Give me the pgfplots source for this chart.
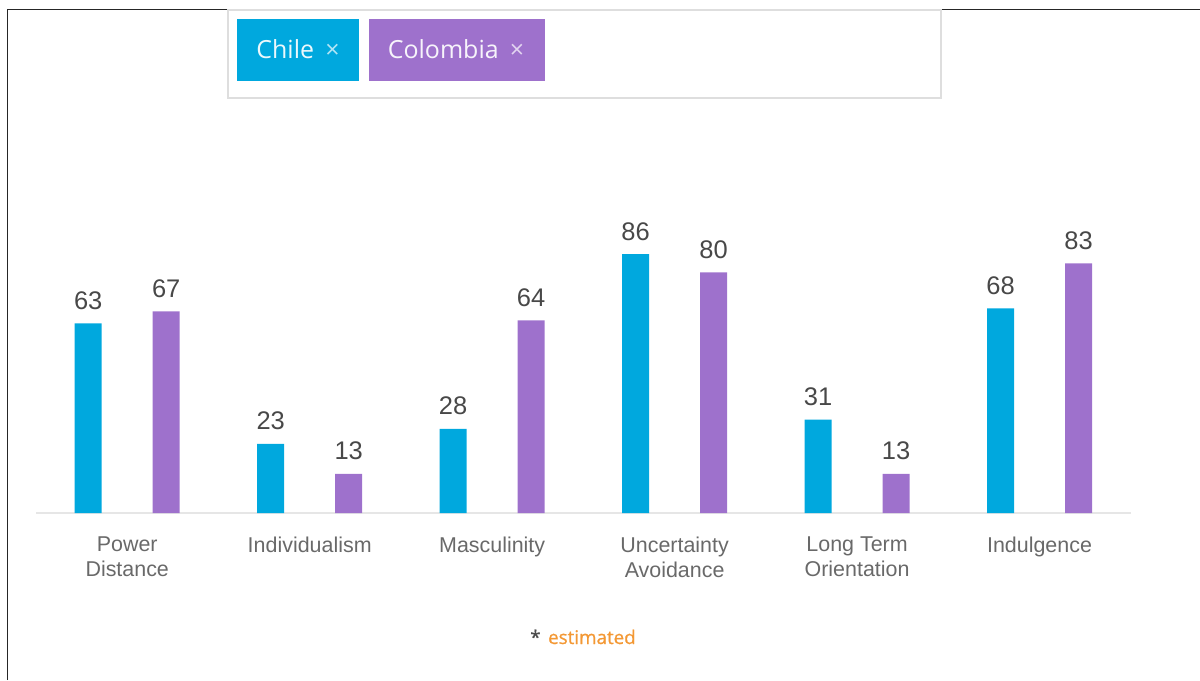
\documentclass[border=0pt]{standalone}
\usepackage{pgfplots}
\pgfplotsset{compat=1.18}
\usepackage{fontspec}
\setmainfont{Liberation Sans}
\newfontfamily\osans{Open Sans}
\newfontfamily\osanssb[FakeBold=0.8]{Open Sans}
\definecolor{chile}{RGB}{0,168,222}
\definecolor{colom}{RGB}{158,113,204}
\definecolor{vallab}{RGB}{72,72,72}
\definecolor{catlab}{RGB}{105,105,105}
\definecolor{est}{RGB}{243,152,52}
\definecolor{basel}{RGB}{230,230,230}
\definecolor{boxgray}{RGB}{222,222,222}

\pgfplotstableread{
x chile colombia
0 63 67
1 23 13
2 28 64
3 86 80
4 31 13
5 68 83
}\hofstede

\begin{document}
\begin{tikzpicture}[x=0.02cm,y=0.02cm]
\path[use as bounding box] (0,0) rectangle (1200,680);
% frame (left and top)
\draw[line width=0.025cm, black!85] (7.5,0) -- (7.5,670.5) -- (1200,670.5);
% legend box
\draw[draw=boxgray, line width=0.04cm] (228,582) rectangle (941,670);
\fill[chile] (237,599) rectangle (359,661);
\fill[colom] (369,599) rectangle (545,661);
\node[anchor=base, inner sep=0pt, font=\osans\fontsize{14.2pt}{17pt}\selectfont, text=white!92!chile] at (298,621) {Chile\hspace{0.45em}{\color{white!70!chile}×}};
\node[anchor=base, inner sep=0pt, font=\osans\fontsize{14.2pt}{17pt}\selectfont, text=white!92!colom] at (456,621) {Colombia\hspace{0.45em}{\color{white!70!colom}×}};

\begin{axis}[
  at={(0.72cm,3.34cm)}, anchor=south west,
  scale only axis, width=21.9cm, height=6.02cm,
  xmin=-0.5, xmax=5.5, ymin=0, ymax=100,
  clip=false,
  hide y axis,
  axis x line*=bottom,
  x axis line style={draw=basel, line width=0.04cm, -},
  xtick={0,...,5}, major tick length=0pt, xtick style={draw=none},
  xticklabels={{Power\\Distance},{Individualism},{Masculinity},{Uncertainty\\Avoidance},{Long Term\\Orientation},{Indulgence}},
  x tick label style={align=center, font=\fontsize{12.2pt}{14.2pt}\selectfont, text=catlab, anchor=north, inner sep=0pt, yshift=-0.47cm},
  ybar, bar width=0.54cm,
  nodes near coords,
  /pgf/number format/assume math mode=true,
  every node near coord/.append style={font=\fontsize{14.5pt}{17pt}\selectfont, text=vallab, anchor=south, inner sep=0pt, yshift=0.27cm},
]
\addplot[fill=chile, draw=none, bar shift=-0.78cm] table[x=x, y=chile] {\hofstede};
\addplot[fill=colom, draw=none, bar shift=0.78cm] table[x=x, y=colombia] {\hofstede};
\end{axis}

\node[anchor=base, inner sep=0pt, font=\osanssb\fontsize{10.7pt}{13pt}\selectfont] at (583,36) {{\color{black!70}*}\hspace{0.4em}\textcolor{est}{estimated}};
\end{tikzpicture}
\end{document}
